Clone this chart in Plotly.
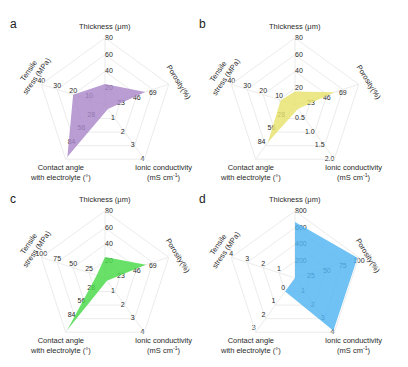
import plotly.graph_objects as go

W, H = 408, 367

# ---------------- data ----------------
axes = ["Thickness", "Porosity", "Ionic", "Contact", "Tensile"]

values_a = [25, 58, 0.3, 107, 20]
values_b = [16, 57, 0.15, 77, 9]
values_c = [25, 59, 0.2, 107, 13]
values_d = [670, 98, 3.9, 0, 0]

ranges_a = [(0, 80), (0, 92), (0, 4), (0, 112), (0, 40)]
ranges_b = [(0, 80), (0, 92), (0, 2), (0, 112), (0, 40)]
ranges_c = [(0, 80), (0, 92), (0, 4), (0, 112), (0, 100)]
ranges_d = [(0, 800), (0, 100), (0, 4), (-1, 3), (0, 4)]

ticks_a = [["20", "40", "60", "80"], ["23", "46", "69"], ["1", "2", "3", "4"],
           ["28", "56", "84"], ["10", "20", "30", "40"]]
ticks_b = [["20", "40", "60", "80"], ["23", "46", "69"], ["0.5", "1.0", "1.5", "2.0"],
           ["28", "56", "84"], ["10", "20", "30", "40"]]
ticks_c = [["20", "40", "60", "80"], ["23", "46", "69"], ["1", "2", "3", "4"],
           ["28", "56", "84"], ["25", "50", "75", "100"]]
ticks_d = [["200", "400", "600", "800"], ["25", "50", "75", "100"], ["1", "2", "3", "4"],
           ["0", "1", "2", "3"], ["1", "2", "3", "4"]]

panel_letters = ["a", "b", "c", "d"]
fill_colors = ["rgba(170,136,201,0.82)", "rgba(232,227,110,0.82)",
               "rgba(72,218,72,0.82)", "rgba(80,180,243,0.82)"]

titles = ["Thickness (μm)", "Porosity(%)", "Ionic conductivity<br>(mS cm<sup>-1</sup>)",
          "Contact angle<br>with electrolyte (°)", "Tensile<br>stress (MPa)"]

# ---------------- layout geometry ----------------
R = 67
centers = [(105, 105), (295, 105), (105, 278), (295, 278)]
tick_pos = ["middle right", "bottom center", "middle left", "top left", "top center"]

panels = [
    (values_a, ranges_a, ticks_a),
    (values_b, ranges_b, ticks_b),
    (values_c, ranges_c, ticks_c),
    (values_d, ranges_d, ticks_d),
]

fig = go.Figure()
annotations = []
GRID = "#e6e6e6"
TXT = "#2a2a2a"


def px(x, y):
    return x / W, 1 - y / H


for i, (vals, rngs, tks) in enumerate(panels):
    sp = "polar" if i == 0 else f"polar{i+1}"
    cx, cy = centers[i]
    # tick labels
    for j, ax in enumerate(axes):
        lo, hi = rngs[j]
        rv = [(float(t) - lo) / (hi - lo) for t in tks[j]]
        fig.add_trace(go.Scatterpolar(
            r=rv, theta=[ax] * len(rv), mode="text", text=tks[j],
            textposition=tick_pos[j],
            textfont=dict(size=7, color=[TXT] * len(rv), family="Arial"),
            marker=dict(color=TXT),
            subplot=sp, showlegend=False, hoverinfo="skip", cliponaxis=False))
    # data polygon
    r = [(v - rngs[j][0]) / (rngs[j][1] - rngs[j][0]) for j, v in enumerate(vals)]
    fig.add_trace(go.Scatterpolar(
        r=r + [r[0]], theta=axes + [axes[0]], mode="lines", fill="toself",
        fillcolor=fill_colors[i], line=dict(width=0, color=fill_colors[i]),
        subplot=sp, showlegend=False, hoverinfo="skip"))

    x0, y1 = px(cx - R, cy - R)
    x1, y0 = px(cx + R, cy + R)
    fig.update_layout(**{sp: dict(
        domain=dict(x=[x0, x1], y=[y0, y1]),
        gridshape="linear", bgcolor="rgba(0,0,0,0)",
        radialaxis=dict(range=[0, 1], tickvals=[0.25, 0.5, 0.75, 1.0], showticklabels=False,
                        ticks="", showline=False, gridcolor=GRID, gridwidth=0.8),
        angularaxis=dict(type="category", categoryarray=axes, direction="clockwise",
                         rotation=90, showticklabels=False, ticks="", gridcolor=GRID,
                         gridwidth=0.8, linecolor=GRID, linewidth=0.8),
    )})

    dx, dy = cx - 105, cy - 105
    tf = dict(size=7.5, color=TXT, family="Arial")
    # axis titles
    title_spec = [
        (titles[0], 105, 26, 0),
        (titles[1], 178, 82, 58),
        (titles[2], 163, 172, 0),
        (titles[3], 60, 172, 0),
        (titles[4], 33, 74, -55),
    ]
    for t, x, y, ang in title_spec:
        xp, yp = px(x + dx, y + dy)
        annotations.append(dict(text=t, x=xp, y=yp, xref="paper", yref="paper",
                                showarrow=False, textangle=ang, font=tf,
                                xanchor="center", yanchor="middle"))
    lx, ly = px(13 + (189 if i % 2 else 0), 24 + (175 if i >= 2 else 0))
    annotations.append(dict(text=panel_letters[i], x=lx, y=ly, xref="paper", yref="paper",
                            showarrow=False, font=dict(size=12, color="#222", family="Arial"),
                            xanchor="center", yanchor="middle"))

fig.update_layout(width=W, height=H, margin=dict(l=0, r=0, t=0, b=0),
                  template="none", font=dict(color=TXT, family="Arial"),
                  paper_bgcolor="white", plot_bgcolor="white",
                  annotations=annotations, showlegend=False)

fig.write_html("out.html", config={"displayModeBar": False, "staticPlot": True},
               post_script="document.body.style.margin='0px';")
